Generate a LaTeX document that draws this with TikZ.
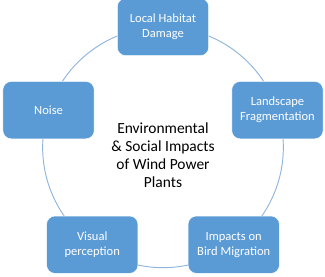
\documentclass[tikz,border=0pt]{standalone}
\usepackage{fontspec}
\setmainfont{Carlito}
\usepackage{xcolor}
\usetikzlibrary{positioning}
\definecolor{boxblue}{HTML}{5B9BD5}
\definecolor{ringblue}{HTML}{8FB4DE}
\tikzstyle{impact} = [
    rectangle, rounded corners=0.25cm,
    minimum width=2.74cm, minimum height=1.72cm,
    text centered, fill=boxblue, draw=white, line width=0.4pt,
    text=white, font=\fontsize{10.7}{12.8}\selectfont]
\tikzstyle{ring} = [draw=ringblue, line width=0.8pt]

\begin{document}
\begin{tikzpicture}[every node/.style={align=center}]
  \useasboundingbox (-4.89,-3.89) rectangle (4.86,4.42);

  \coordinate (hub) at (0,0);
  \draw [ring] (hub) circle (3.61cm);
  \node (title) [below=0.24cm of hub, anchor=center,
      font=\fontsize{13.2}{15.4}\selectfont]
      {Environmental\\\& Social Impacts\\of Wind Power\\Plants};

  \node (habitat) [impact] at (90:3.61)
      {Local Habitat\\Damage};
  \node (landscape) [impact] at (18:3.61)
      {Landscape\\Fragmentation};
  \node (birds) [impact] at (-54:3.61)
      {Impacts on\\Bird Migration};
  \node (visual) [impact] at (-126:3.61)
      {Visual\\perception};
  \node (noise) [impact] at (162:3.61)
      {Noise};

\end{tikzpicture}
\end{document}
